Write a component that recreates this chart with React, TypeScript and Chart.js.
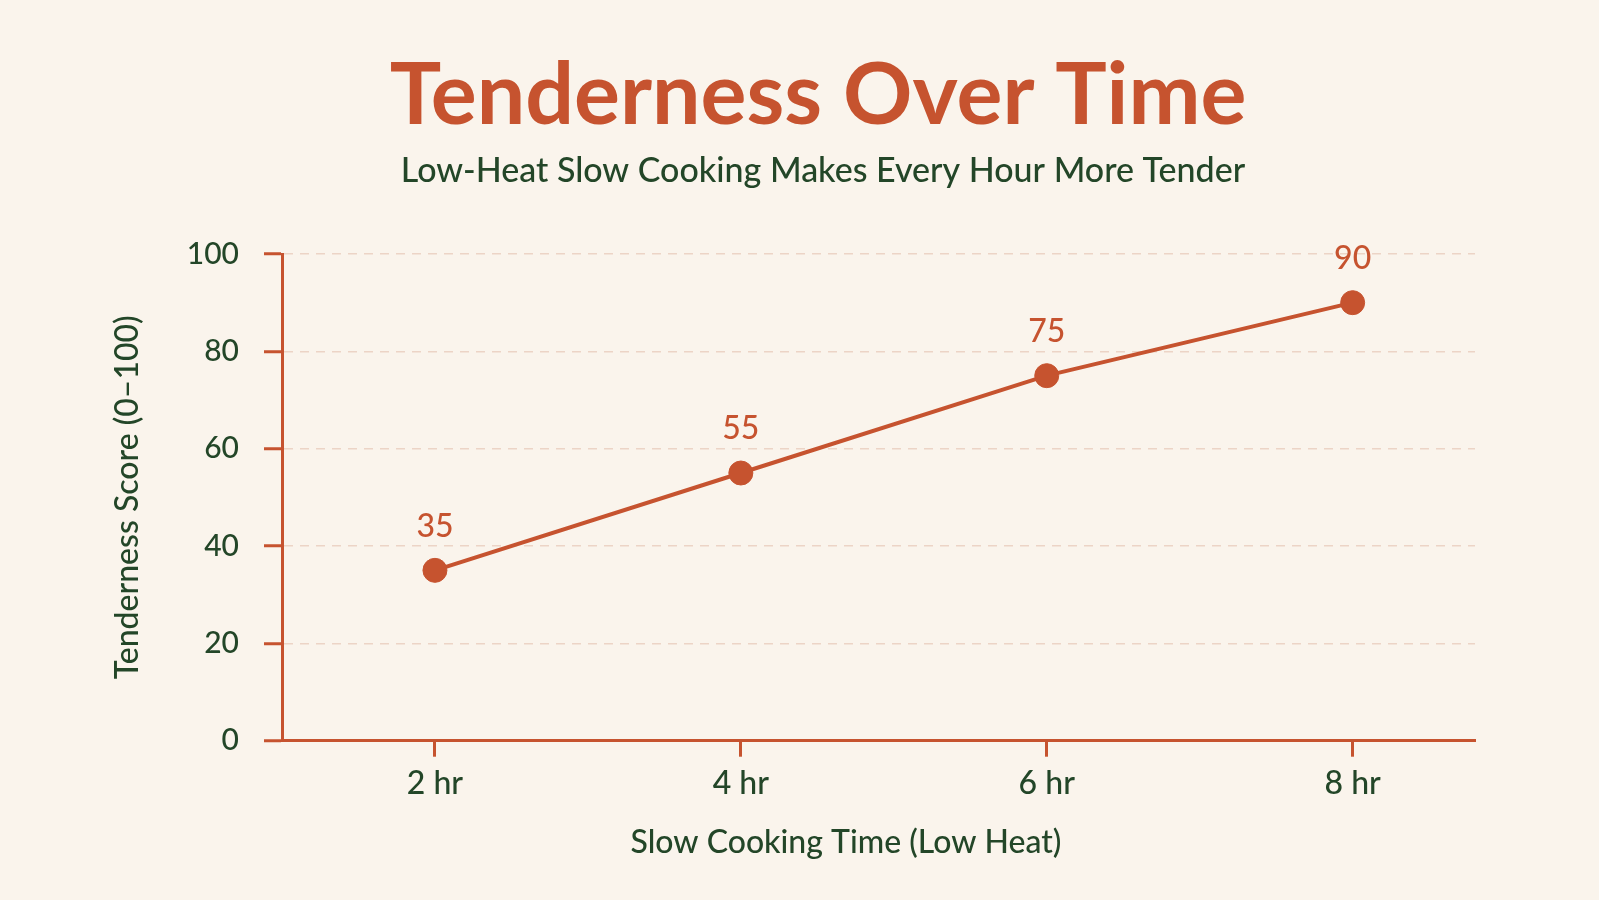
import React, { useEffect, useRef } from "react";
import { Chart, registerables } from "chart.js";

Chart.register(...registerables);

const hours = [2, 4, 6, 8];
const xTickLabels = ["2 hr", "4 hr", "6 hr", "8 hr"];
const tenderness = [35, 55, 75, 90];
const yTickValues = [0, 20, 40, 60, 80, 100];

const titleText = "Tenderness Over Time";
const subtitleText = "Low-Heat Slow Cooking Makes Every Hour More Tender";
const xTitle = "Slow Cooking Time (Low Heat)";
const yTitle = "Tenderness Score (0–100)";

const ORANGE = "#c6532f";
const GREEN = "#234628";
const GRID = "#ecd4c6";
const BG = "#faf4ec";
const FONT = "Lato, 'Open Sans', sans-serif";

const textPlugin = {
  id: "textPlugin",
  afterDatasetsDraw(chart: any) {
    const ctx = chart.ctx;
    ctx.save();
    ctx.textAlign = "center";
    ctx.textBaseline = "middle";
    ctx.fillStyle = ORANGE;
    ctx.font = `bold 86px ${FONT}`;
    ctx.fillText(titleText, 818, 96);
    ctx.fillStyle = GREEN;
    ctx.font = `500 34px ${FONT}`;
    ctx.fillText(subtitleText, 823, 171);
    ctx.font = `500 32px ${FONT}`;
    ctx.fillText(xTitle, 846, 843);
    const meta = chart.getDatasetMeta(0);
    ctx.fillStyle = ORANGE;
    ctx.font = `500 32px ${FONT}`;
    meta.data.forEach((pt: any, i: number) => {
      ctx.fillText(String(tenderness[i]), pt.x, pt.y - 44);
    });
    ctx.restore();
  },
};

export default function App() {
  const ref = useRef<HTMLCanvasElement>(null);
  useEffect(() => {
    if (!ref.current) return;
    const chart = new Chart(ref.current, {
      type: "line",
      data: {
        datasets: [
          {
            data: hours.map((h, i) => ({ x: h, y: tenderness[i] })),
            borderColor: ORANGE,
            backgroundColor: ORANGE,
            borderWidth: 4,
            pointRadius: 12,
            pointBorderWidth: 1,
            pointBackgroundColor: ORANGE,
            pointBorderColor: ORANGE,
            tension: 0,
          },
        ],
      },
      options: {
        animation: false,
        responsive: false,
        devicePixelRatio: 1,
        layout: { padding: { top: 254, left: 100, right: 124, bottom: 40 } },
        plugins: {
          legend: { display: false },
          tooltip: { enabled: false },
          title: { display: false },
        },
        scales: {
          x: {
            type: "linear",
            min: 1,
            max: 8.8,
            afterBuildTicks: (scale: any) => {
              scale.ticks = hours.map((v) => ({ value: v }));
            },
            afterFit: (scale: any) => {
              scale.height = 119.3;
            },
            grid: {
              drawOnChartArea: false,
              drawTicks: true,
              tickLength: 16,
              tickWidth: 3,
              tickColor: ORANGE,
            },
            border: { display: true, color: ORANGE, width: 3 },
            ticks: {
              padding: 8,
              color: GREEN,
              font: { family: FONT, size: 32, weight: "500" },
              callback: (v: any) => xTickLabels[hours.indexOf(Number(v))] ?? "",
            },
          },
          y: {
            min: 0,
            max: 100,
            afterBuildTicks: (scale: any) => {
              scale.ticks = yTickValues.map((v) => ({ value: v }));
            },
            afterFit: (scale: any) => {
              scale.width = 182;
            },
            grid: {
              color: GRID,
              lineWidth: 1.5,
              drawTicks: true,
              tickLength: 18,
              tickWidth: 3,
              tickColor: ORANGE,
              tickBorderDash: [],
            },
            border: { display: true, color: ORANGE, width: 3, dash: [9, 7] },
            ticks: {
              padding: 25,
              color: GREEN,
              font: { family: FONT, size: 30, weight: "500" },
            },
            title: {
              display: true,
              text: yTitle,
              color: GREEN,
              font: { family: FONT, size: 32, weight: "500" },
              padding: { top: 8, bottom: 0 },
            },
          },
        },
      },
      plugins: [textPlugin],
    } as any);
    return () => chart.destroy();
  }, []);
  return (
    <div
      style={{
        position: "fixed",
        left: 0,
        top: 0,
        width: 1599,
        height: 900,
        background: BG,
      }}
    >
      <canvas ref={ref} width={1599} height={900} style={{ display: "block" }} />
    </div>
  );
}
